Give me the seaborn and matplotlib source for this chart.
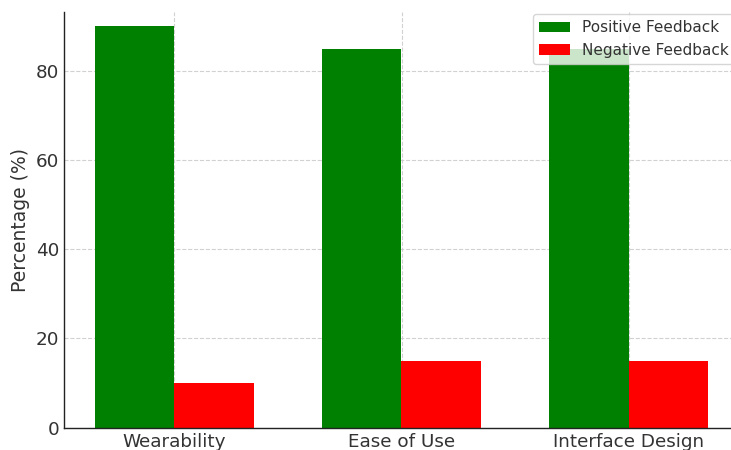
import matplotlib
matplotlib.use("Agg")
import matplotlib.pyplot as plt
import seaborn as sns
import pandas as pd

categories = ["Wearability", "Ease of Use", "Interface Design"]
positive = [90, 85, 85]
negative = [10, 15, 15]
series_names = ["Positive Feedback", "Negative Feedback"]
colors = ["#008000", "#ff0000"]

df = pd.DataFrame({
    "Category": categories * 2,
    "Value": positive + negative,
    "Series": [series_names[0]] * len(categories) + [series_names[1]] * len(categories),
})

sns.set_theme(style="white")
plt.rcParams["font.family"] = ["DejaVu Sans"]

fig = plt.figure(figsize=(7.31, 4.5), dpi=100)
ax = fig.add_axes([64 / 731, 22.3 / 450, (739 - 64) / 731, (427.7 - 12) / 450])

sns.barplot(data=df, x="Category", y="Value", hue="Series", order=categories,
            hue_order=series_names, palette=colors, width=0.7, gap=0,
            saturation=1, linewidth=0, ax=ax, zorder=2)

ax.set_axisbelow(True)
ax.grid(True, linestyle="--", color="#cccccc", linewidth=0.8, alpha=0.9)
ax.set_ylim(0, 93.2)
ax.set_xlim(-0.485, 2.485)
ax.set_xlabel("")
ax.set_ylabel("Percentage (%)", fontsize=13.5, color="#333333")
ax.tick_params(axis="both", labelsize=13.2, colors="#333333", length=4,
               direction="in", width=0.8)
ax.tick_params(axis="both", color="#222222")
for s in ["top", "right"]:
    ax.spines[s].set_visible(False)
for s in ["left", "bottom"]:
    ax.spines[s].set_color("#222222")
    ax.spines[s].set_linewidth(1.0)

leg = ax.legend(loc="upper left", bbox_to_anchor=(533 / 731, 1 - 14.3 / 450),
                bbox_transform=fig.transFigure, borderaxespad=0,
                fontsize=11, frameon=True, title=None, framealpha=0.8)
for t in leg.get_texts():
    t.set_color("#333333")
leg.get_frame().set_edgecolor("#cccccc")

fig.savefig("out.png", dpi=100)
